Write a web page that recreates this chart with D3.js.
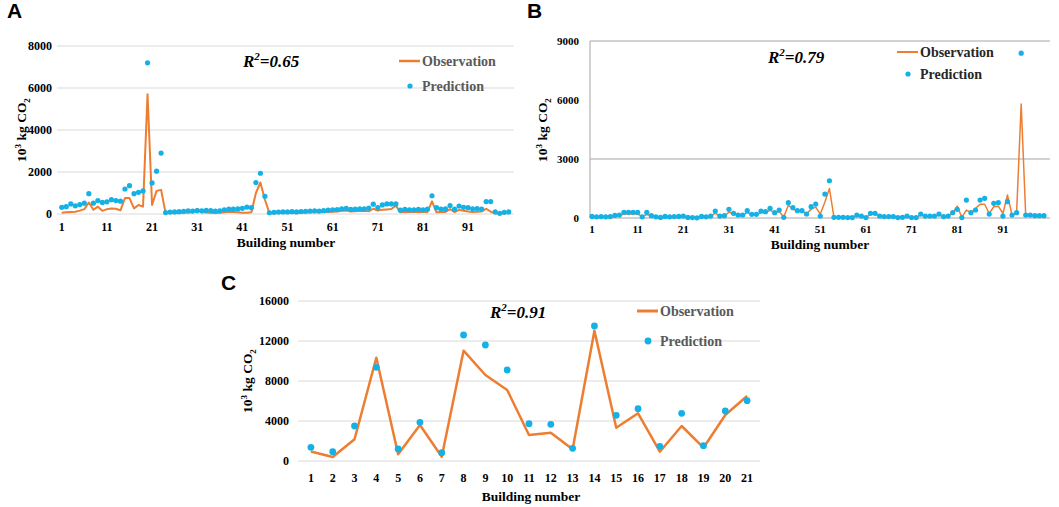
<!DOCTYPE html>
<html>
<head>
<meta charset="utf-8">
<script src="https://cdn.jsdelivr.net/npm/d3@7"></script>
<style>
  body { margin: 0; background: #fff; }
  text { font-family: "Liberation Serif", "Times New Roman", serif; }
  .panel-label { font-family: "Liberation Sans", Arial, sans-serif; font-weight: bold; font-size: 21px; }
</style>
</head>
<body>
<div id="chart"></div>
<script>
// panel A: 100 buildings
const predA = [320, 350, 480, 390, 450, 515, 970, 515, 640, 550,
  580, 680, 640, 610, 1190, 1350, 970, 1030, 1100, 7200,
  1480, 2040, 2900, 70, 90, 100, 110, 130, 150, 140,
  160, 150, 170, 160, 140, 150, 200, 230, 230, 240,
  270, 330, 300, 1500, 1940, 840, 60, 80, 90, 100,
  100, 110, 100, 120, 130, 140, 150, 140, 160, 180,
  200, 210, 250, 270, 220, 230, 240, 250, 280, 470,
  300, 430, 480, 480, 480, 180, 220, 200, 200, 220,
  200, 230, 870, 300, 230, 240, 400, 230, 380, 320,
  300, 250, 260, 230, 590, 590, 100, 30, 80, 100];
const obsA = [60, 80, 100, 110, 160, 230, 550, 200, 350, 150,
  230, 260, 250, 170, 760, 760, 270, 430, 350, 5700,
  430, 1100, 1150, 40, 50, 50, 60, 60, 70, 80,
  250, 80, 70, 60, 50, 60, 80, 90, 100, 80,
  60, 60, 80, 1000, 1500, 680, 40, 50, 50, 60,
  60, 60, 70, 60, 70, 80, 90, 80, 90, 100,
  110, 120, 150, 160, 120, 130, 140, 150, 130, 250,
  160, 200, 220, 240, 400, 80, 100, 90, 90, 100,
  90, 100, 600, 80, 90, 100, 230, 90, 200, 150,
  120, 100, 110, 120, 250, 110, 40, 20, 50, 60];

// panel B: 100 buildings
const predB = [80, 60, 70, 60, 70, 130, 150, 290, 290, 290,
  290, 60, 290, 120, 60, 30, 80, 60, 70, 80,
  100, 30, 20, 10, 80, 60, 100, 355, 100, 120,
  440, 237, 152, 152, 372, 186, 186, 355, 320, 490,
  270, 406, 34, 777, 524, 372, 372, 203, 574, 710,
  101, 1217, 1893, 34, 34, 34, 20, 20, 150, 100,
  20, 240, 240, 100, 70, 70, 70, 20, 34, 100,
  20, 20, 200, 100, 100, 100, 200, 70, 100, 270,
  440, 20, 913, 270, 406, 913, 1000, 200, 744, 777,
  100, 828, 150, 270, 8380, 150, 150, 120, 120, 120];
const obsB = [60, 50, 60, 50, 60, 100, 120, 200, 200, 200,
  200, 80, 180, 100, 50, 30, 60, 50, 60, 70,
  80, 30, 20, 20, 60, 50, 80, 250, 90, 100,
  300, 200, 130, 130, 280, 160, 160, 280, 260, 400,
  250, 330, 50, 650, 450, 350, 330, 220, 450, 550,
  200, 800, 1500, 30, 30, 30, 20, 20, 120, 80,
  20, 200, 200, 90, 60, 60, 60, 20, 30, 80,
  20, 20, 160, 80, 80, 80, 160, 60, 90, 250,
  600, 34, 400, 270, 490, 700, 700, 230, 570, 600,
  230, 1170, 150, 250, 5800, 100, 120, 100, 100, 100];

// panel C: 21 buildings
const predC = [1370, 930, 3500, 9370, 1200, 3870, 830, 12600, 11600, 9100,
  3730, 3670, 1270, 13500, 4570, 5230, 1470, 4770, 1530, 5000, 6030];
const obsC = [950, 400, 2170, 10330, 670, 3600, 430, 11030, 8600, 7100,
  2600, 2830, 1170, 13030, 3330, 4770, 930, 3500, 1330, 4600, 6500];

const ticksA = [0, 2000, 4000, 6000, 8000];
const ticksB = [0, 3000, 6000, 9000];
const ticksC = [0, 4000, 8000, 12000, 16000];
const labelsAB = [1, 11, 21, 31, 41, 51, 61, 71, 81, 91];

const orange = '#ed7d31';
const blue = '#14b1e7';

const svg = d3.select('#chart').append('svg')
  .attr('width', 1059).attr('height', 507)
  .style('background', 'white');

function drawPanel(p) {
  const idx = d3.range(1, p.obs.length + 1);
  const x = d3.scalePoint().domain(idx).range(p.xr).padding(p.pad);
  const y = d3.scaleLinear().domain(p.yd).range(p.yr);
  const g = svg.append('g');

  // gridlines
  g.selectAll('.grid').data(p.grid).join('line')
    .attr('x1', p.gx[0]).attr('x2', p.gx[1])
    .attr('y1', d => y(d)).attr('y2', d => y(d))
    .attr('stroke', p.gridColor).attr('stroke-width', 1);
  if (p.leftLine) {
    g.append('line').attr('x1', p.gx[0]).attr('x2', p.gx[0])
      .attr('y1', y(p.yd[1])).attr('y2', y(0))
      .attr('stroke', p.gridColor);
  }

  // y tick labels
  g.selectAll('.yt').data(p.yticks).join('text')
    .attr('x', p.ytx).attr('y', d => y(d) + 4)
    .attr('text-anchor', 'end').attr('font-weight', 'bold')
    .attr('font-size', p.fs).text(d => d);

  // x tick labels
  g.selectAll('.xt').data(p.xlabels).join('text')
    .attr('x', d => x(d)).attr('y', p.xty)
    .attr('text-anchor', 'middle').attr('font-weight', 'bold')
    .attr('font-size', p.fs).text(d => d);

  // axis titles
  g.append('text').attr('x', p.xtitle[0]).attr('y', p.xtitle[1])
    .attr('text-anchor', 'middle').attr('font-weight', 'bold')
    .attr('font-size', 13.5).text('Building number');
  const yt = g.append('text')
    .attr('transform', `translate(${p.ytitle[0]},${p.ytitle[1]}) rotate(-90)`)
    .attr('text-anchor', 'middle').attr('font-weight', 'bold').attr('font-size', 13.5);
  yt.append('tspan').text('10');
  yt.append('tspan').attr('font-size', 9).attr('dy', -5).text('3');
  yt.append('tspan').attr('dy', 5).text(' kg CO');
  yt.append('tspan').attr('font-size', 9).attr('dy', 4).text('2');

  // observation line
  g.append('path').datum(p.obs)
    .attr('fill', 'none').attr('stroke', orange).attr('stroke-width', p.lw)
    .attr('stroke-linejoin', 'round')
    .attr('d', d3.line().x((d, i) => x(i + 1)).y(d => y(d)));

  // prediction dots
  g.selectAll('.dot').data(p.pred).join('circle')
    .attr('cx', (d, i) => x(i + 1)).attr('cy', d => y(d))
    .attr('r', p.r).attr('fill', blue);

  // R2
  const r2 = g.append('text').attr('x', p.r2[0]).attr('y', p.r2[1])
    .attr('font-weight', 'bold').attr('font-style', 'italic').attr('font-size', 17);
  r2.append('tspan').text('R');
  r2.append('tspan').attr('font-size', 11).attr('dy', -7).text('2');
  r2.append('tspan').attr('dy', 7).text('=' + p.r2text);

  // legend
  const L = p.legend;
  g.append('line').attr('x1', L[0]).attr('x2', L[0] + 21)
    .attr('y1', L[1]).attr('y2', L[1])
    .attr('stroke', orange).attr('stroke-width', p.lw + 0.5);
  g.append('text').attr('x', L[0] + 23).attr('y', L[1] + 5)
    .attr('font-weight', 'bold').attr('font-size', 14).attr('fill', p.legColor)
    .text('Observation');
  g.append('circle').attr('cx', L[0] + 11).attr('cy', L[1] + L[2])
    .attr('r', p.r).attr('fill', blue);
  g.append('text').attr('x', L[0] + 23).attr('y', L[1] + L[2] + 5)
    .attr('font-weight', 'bold').attr('font-size', 14).attr('fill', p.legColor)
    .text('Prediction');

  svg.append('text').attr('class', 'panel-label')
    .attr('x', p.label[0]).attr('y', p.label[1]).text(p.name);
}

drawPanel({
  name: 'A', label: [7, 18], obs: obsA, pred: predA,
  xr: [59.5, 511], pad: 0.5, yd: [0, 8000], yr: [214, 46],
  grid: ticksA, gx: [57, 514], gridColor: '#d9d9d9', leftLine: false,
  yticks: ticksA, ytx: 52, xlabels: labelsAB, xty: 231, fs: 12,
  xtitle: [286, 247], ytitle: [26, 130],
  lw: 2, r: 2.6, r2: [243, 67], r2text: '0.65',
  legend: [399, 61, 25], legColor: '#595959'
});

drawPanel({
  name: 'B', label: [527, 18], obs: obsB, pred: predB,
  xr: [592, 1044], pad: 0, yd: [0, 9000], yr: [218, 41],
  grid: [0, 3000, 9000], gx: [590, 1050], gridColor: '#a6a6a6', leftLine: true,
  yticks: ticksB, ytx: 579, xlabels: labelsAB, xty: 233, fs: 11,
  xtitle: [820, 249], ytitle: [547, 130],
  lw: 1.5, r: 2.6, r2: [768, 63], r2text: '0.79',
  legend: [897, 52, 22], legColor: '#262626'
});

drawPanel({
  name: 'C', label: [221, 290], obs: obsC, pred: predC,
  xr: [300, 758], pad: 0.5, yd: [0, 16000], yr: [461, 301],
  grid: ticksC, gx: [298, 760], gridColor: '#d9d9d9', leftLine: false,
  yticks: ticksC, ytx: 289, xlabels: d3.range(1, 22), xty: 482, fs: 12,
  xtitle: [531, 501], ytitle: [252, 381],
  lw: 2.5, r: 3.4, r2: [490, 318], r2text: '0.91',
  legend: [637, 311, 30], legColor: '#595959'
});
</script>
</body>
</html>
